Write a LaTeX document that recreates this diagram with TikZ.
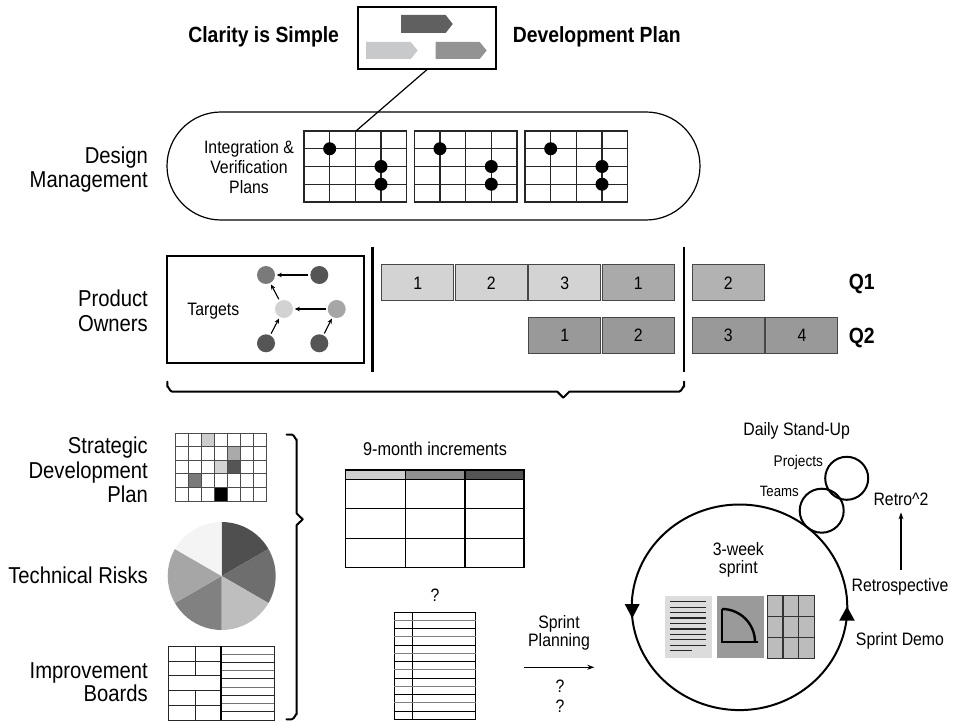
\documentclass[tikz,border=0pt]{standalone}
\usepackage{fontspec}
\setmainfont{Liberation Sans}[FakeStretch=0.88]
\usetikzlibrary{arrows.meta,shapes.geometric,calc}

\definecolor{arrDark}{HTML}{606060}
\definecolor{arrLight}{HTML}{C8C9CB}
\definecolor{arrMid}{HTML}{939393}
\definecolor{barLight}{HTML}{D3D3D3}
\definecolor{barMid}{HTML}{AAAAAA}
\definecolor{barMidB}{HTML}{B2B2B2}
\definecolor{barDark}{HTML}{999999}
\definecolor{tgtA}{HTML}{7A7A7A}
\definecolor{tgtB}{HTML}{555555}
\definecolor{tgtC}{HTML}{D2D2D2}
\definecolor{tgtD}{HTML}{A6A6A6}
\definecolor{pieA}{HTML}{4F4F4F}
\definecolor{pieB}{HTML}{6E6E6E}
\definecolor{pieC}{HTML}{BEBEBE}
\definecolor{pieD}{HTML}{818181}
\definecolor{pieE}{HTML}{A6A6A6}
\definecolor{pieF}{HTML}{F4F4F4}
\definecolor{hdA}{HTML}{CDCDCD}
\definecolor{hdB}{HTML}{8F8F8F}
\definecolor{hdC}{HTML}{555555}
\definecolor{icoA}{HTML}{DCDCDC}
\definecolor{icoB}{HTML}{9A9A9A}
\definecolor{icoC}{HTML}{BCBCBC}

\begin{document}
\begin{tikzpicture}[x=1pt,y=-1pt,
  lbl/.style={font=\fontsize{23}{25}\selectfont, anchor=base east, inner sep=0pt},
  txt/.style={font=\fontsize{18}{20}\selectfont, anchor=base, inner sep=0pt},
  smalltxt/.style={font=\fontsize{15.5}{17}\selectfont, anchor=base, inner sep=0pt},
  hdr/.style={font=\bfseries\fontsize{22}{24}\selectfont, anchor=base, inner sep=0pt},
  bar/.style={draw=black!72, line width=1pt, minimum width=72pt, minimum height=35.7pt,
    inner sep=0pt, font=\fontsize{18}{20}\selectfont},
  dot/.style={circle, fill=black, minimum size=13pt, inner sep=0pt},
  tgt/.style={circle, minimum size=18pt, inner sep=0pt},
  tarr/.style={-{Stealth[length=5pt,width=4.5pt]}, line width=1.1pt, shorten >=1.6pt, shorten <=1.8pt},
  gridln/.style={draw=black!85, line width=1.2pt},
  cellln/.style={draw=black!70, line width=1pt},
  tblln/.style={draw=black, line width=1.1pt},
  heavy/.style={line width=2.6pt},
  brace/.style={line width=2pt, line join=round, line cap=round},
  ring/.style={draw, circle, line width=2pt, inner sep=0pt},
  flow/.style={-{Stealth[length=7pt,width=5pt]}, line width=1.2pt}]
\useasboundingbox (0,0) rectangle (962,722);

% ---------- headline with the development plan box ----------
\node[hdr] (clarity) at (263.7,42.7) {Clarity is Simple};
\node[hdr] (devplan) at (596.7,42.7) {Development Plan};
\node[draw, line width=1.2pt, minimum width=138pt, minimum height=62pt, inner sep=0pt] (devbox) at (427,38) {};
\fill[arrDark]  (401,15)   -- (445.7,15) -- (452.7,24)   -- (445.7,33) -- (401,33)   -- cycle;
\fill[arrLight] (366,42)   -- (410.7,42) -- (417.7,50.5) -- (410.7,59) -- (366,59)   -- cycle;
\fill[arrMid]   (435.7,42) -- (479.7,42) -- (486.7,50.5) -- (479.7,59) -- (435.7,59) -- cycle;

% ---------- design management ----------
\node[lbl] (dm1) at (148,164) {Design};
\node[lbl] (dm2) at (148,188) {Management};
\node[draw, line width=1.2pt, rounded corners=54pt, minimum width=533pt, minimum height=108pt, inner sep=0pt] (pill) at (433.5,166) {};
\node[txt] (iv1) at (249,154) {Integration \&};
\node[txt] (iv2) at (249,174) {Verification};
\node[txt] (iv3) at (249,194) {Plans};
\foreach \gx [count=\k] in {304,414.3,525} {
  \draw[gridln] (\gx,131) rectangle ++(102.7,71);
  \foreach \i in {1,2,3} \draw[gridln] (\gx+25.675*\i,131) -- ++(0,71);
  \foreach \j in {1,2,3} \draw[gridln] (\gx,131+17.75*\j) -- ++(102.7,0);
  \node[dot] (dotA\k) at (\gx+25.675,148.75) {};
  \node[dot] (dotB\k) at (\gx+77.025,166.5) {};
  \node[dot] (dotC\k) at (\gx+77.025,184.25) {};
}
\coordinate (gridtop) at (356,131);
\draw[line width=1.2pt] (devbox.south) -- (gridtop);

% ---------- product owners ----------
\node[lbl] (po1) at (148,307) {Product};
\node[lbl] (po2) at (148,331) {Owners};
\node[draw, line width=2pt, minimum width=196.7pt, minimum height=107.6pt, inner sep=0pt] (tbox) at (265.65,309.5) {};
\node[txt] (targets) at (213.3,316) {Targets};
\node[tgt, fill=tgtA] (t1) at (266,275) {};
\node[tgt, fill=tgtB] (t2) at (319.3,275) {};
\node[tgt, fill=tgtC] (t3) at (284,309) {};
\node[tgt, fill=tgtD] (t4) at (336.7,309) {};
\node[tgt, fill=tgtB] (t5) at (266,343.3) {};
\node[tgt, fill=tgtB] (t6) at (319.3,343.3) {};
\draw[tarr] (t2) -- (t1);
\draw[tarr] (t3) -- (t1);
\draw[tarr] (t4) -- (t3);
\draw[tarr] (t5) -- (t3);
\draw[tarr] (t6) -- (t4);

\draw[heavy] (372.3,246.7) -- (372.3,371.7);
\draw[heavy] (684,246.7) -- (684,371.7);

\node[bar, fill=barLight] (qa1) at (417.7,282.85) {1};
\node[bar, fill=barLight] (qa2) at (491.2,282.85) {2};
\node[bar, fill=barLight] (qa3) at (564.7,282.85) {3};
\node[bar, fill=barMid]   (qa4) at (638.2,282.85) {1};
\node[bar, fill=barMidB]  (qa5) at (728.2,282.85) {2};
\node[bar, fill=barDark]  (qb1) at (564.7,335.5) {1};
\node[bar, fill=barDark]  (qb2) at (638.2,335.5) {2};
\node[bar, fill=barDark]  (qb3) at (728.2,335.5) {3};
\node[bar, fill=barDark]  (qb4) at (801.9,335.5) {4};
\node[hdr] (q1) at (861.7,290) {Q1};
\node[hdr] (q2) at (861.7,343.3) {Q2};

\draw[brace] (167.3,381.7) -- (167.3,386.7) to[out=90,in=180] (172.3,391.7)
  -- (557.3,391.7) -- (563.3,397.7) -- (569.3,391.7)
  -- (679,391.7) to[out=0,in=90] (684,386.7) -- (684,381.7);

% ---------- strategic development plan ----------
\node[lbl] (sd1) at (148,453) {Strategic};
\node[lbl] (sd2) at (148,478) {Development};
\node[lbl] (sd3) at (148,502) {Plan};
\foreach \c/\r/\col in {2/0/hdA, 4/1/barMid, 3/2/barLight, 4/2/hdC, 1/3/tgtA, 3/4/black}
  \fill[\col] (175+13.1*\c,433.3+13.54*\r) rectangle ++(13.1,13.54);
\draw[cellln] (175,433.3) rectangle (266.7,501);
\foreach \c in {1,...,6} \draw[cellln] (175+13.1*\c,433.3) -- ++(0,67.7);
\foreach \r in {1,...,4} \draw[cellln] (175,433.3+13.54*\r) -- ++(91.7,0);

% ---------- technical risks ----------
\node[lbl] (tr) at (148,583) {Technical Risks};
\coordinate (pc) at (221.7,576);
\begin{scope}
  \clip (pc) circle[radius=54pt];
  \fill[pieA] (pc) -- ($(pc)+(90:80pt)$)   -- ($(pc)+(30:80pt)$)   -- cycle;
  \fill[pieB] (pc) -- ($(pc)+(30:80pt)$)   -- ($(pc)+(-30:80pt)$)  -- cycle;
  \fill[pieC] (pc) -- ($(pc)+(-30:80pt)$)  -- ($(pc)+(-90:80pt)$)  -- cycle;
  \fill[pieD] (pc) -- ($(pc)+(-90:80pt)$)  -- ($(pc)+(-150:80pt)$) -- cycle;
  \fill[pieE] (pc) -- ($(pc)+(-150:80pt)$) -- ($(pc)+(150:80pt)$)  -- cycle;
  \fill[pieF] (pc) -- ($(pc)+(150:80pt)$)  -- ($(pc)+(90:80pt)$)   -- cycle;
\end{scope}

% ---------- improvement boards ----------
\node[lbl] (ib1) at (148,678) {Improvement};
\node[lbl] (ib2) at (148,701.5) {Boards};
\draw[cellln, draw=black!85] (168.3,646) rectangle (274,720);
\foreach \yy in {661,675,690,705} \draw[cellln, draw=black!85] (168.3,\yy) -- (221,\yy);
\draw[cellln, draw=black!85] (195,646) -- (195,675);
\draw[cellln, draw=black!85] (195,690) -- (195,720);
\foreach \k in {1,3,5,7} \draw[cellln, draw=black!55] (221,646+8.22*\k) -- (274,646+8.22*\k);
\foreach \k in {2,4,6,8} \draw[cellln, draw=black!85] (221,646+8.22*\k) -- (274,646+8.22*\k);
\draw[line width=2.4pt] (221,646) -- (221,720);

\draw[brace] (286.5,434.5) -- (291.7,434.5) to[out=0,in=-90] (296.7,439.5)
  -- (296.7,513.5) -- (302.7,519.3) -- (296.7,525.1)
  -- (296.7,714.3) to[out=90,in=0] (291.7,719.3) -- (286.5,719.3);

% ---------- 9-month increments ----------
\node[txt, font=\fontsize{18.5}{20}\selectfont] (nine) at (435,455) {9-month increments};
\fill[hdA] (345.7,470) rectangle (405.3,479.3);
\fill[hdB] (405.3,470) rectangle (465,479.3);
\fill[hdC] (465,470) rectangle (524,479.3);
\draw[tblln] (345.7,470) rectangle (524,567.3);
\foreach \xx in {405.3,465} \draw[tblln] (\xx,470) -- (\xx,567.3);
\foreach \yy in {479.3,508.3,538.3} \draw[tblln] (345.7,\yy) -- (524,\yy);

% ---------- backlog list ----------
\node[txt] (qa) at (435,601) {?};
\draw[tblln] (394.3,612.3) rectangle (475.7,719.3);
\draw[tblln] (412.3,612.3) -- (412.3,719.3);
\foreach \k in {1,3,...,11} \draw[cellln, draw=black!50] (394.3,612.3+8.23*\k) -- (475.7,612.3+8.23*\k);
\foreach \k in {2,4,...,12} \draw[cellln, draw=black] (394.3,612.3+8.23*\k) -- (475.7,612.3+8.23*\k);

\node[txt] (sp1) at (559,628.3) {Sprint};
\node[txt] (sp2) at (559,646.7) {Planning};
\coordinate (spA) at (524,667.3);
\coordinate (spB) at (594.3,667.3);
\draw[flow] (spA) -- (spB);
\node[txt] (qb) at (560,692.7) {?};
\node[txt] (qc) at (560,712.7) {?};

% ---------- sprint cycle ----------
\node[draw, ellipse, line width=2pt, minimum width=215.6pt, minimum height=205.6pt, inner sep=0pt] (sprint) at (739.5,607.3) {};
\fill (624.7,604) -- (639.7,604) -- (632.2,618.3) -- cycle;
\fill (847,606.5) -- (839.2,620.7) -- (854.8,620.7) -- cycle;
\node[txt] (wk1) at (738.3,555) {3-week};
\node[txt] (wk2) at (738.3,573.3) {sprint};

\fill[icoA] (665,595.7) rectangle (711.7,658.3);
\foreach \k in {0,...,8} \draw[line width=1.2pt, black!85] (670,601.7+5.44*\k) -- (705.7,601.7+5.44*\k);
\draw[line width=1.2pt, black!85] (670,650.7) -- (691.7,650.7);

\fill[icoB] (717.3,595.7) rectangle (764,658.3);
\draw[line width=2.4pt] (722,609) .. controls (740.2,609) and (755,623.8) .. (755,642);
\draw[line width=2.4pt, line join=miter] (722,609) -- (722,642) -- (757.5,642);

\foreach \i in {0,1,2} \foreach \j in {0,1,2}
  \draw[fill=icoC, draw=black!80, line width=1.3pt] (767.3+15.67*\i,595.7+20.87*\j) rectangle ++(15.67,20.87);

\node[ring, minimum size=44pt] (teams) at (821.7,510.7) {};
\node[ring, minimum size=43pt] (projects) at (846.7,478.3) {};
\node[txt] (daily) at (796.7,435) {Daily Stand-Up};
\node[smalltxt] (projl) at (798.3,466) {Projects};
\node[smalltxt, font=\fontsize{15}{17}\selectfont] (teaml) at (779.3,496.7) {Teams};
\node[txt] (retro2) at (901,505) {Retro\textasciicircum 2};
\node[txt] (retrosp) at (900,591.7) {Retrospective};
\node[txt] (demo) at (900,645) {Sprint Demo};
\draw[flow, line width=1.1pt, shorten <=8pt, shorten >=7pt] (retrosp.north -| retro2.south) -- (retro2.south);
\end{tikzpicture}
\end{document}
